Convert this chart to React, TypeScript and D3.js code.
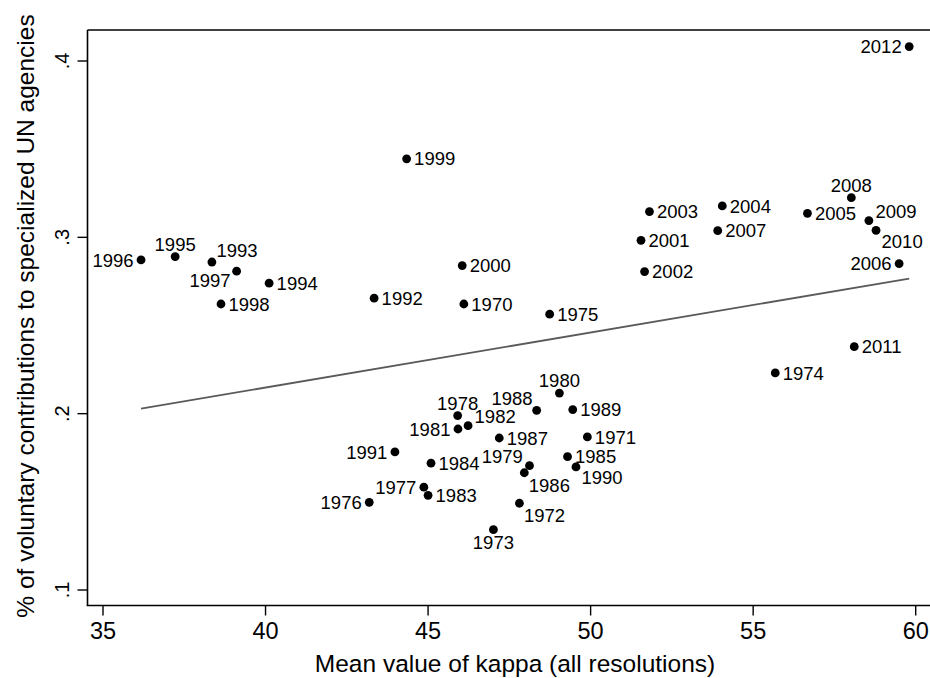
import React from "react";
import * as d3 from "d3";

// Annual observations, 1970–2012
const years = [
  1970, 1971, 1972, 1973, 1974, 1975, 1976, 1977, 1978, 1979,
  1980, 1981, 1982, 1983, 1984, 1985, 1986, 1987, 1988, 1989,
  1990, 1991, 1992, 1993, 1994, 1995, 1996, 1997, 1998, 1999,
  2000, 2001, 2002, 2003, 2004, 2005, 2006, 2007, 2008, 2009,
  2010, 2011, 2012,
];

// Mean value of kappa (all resolutions)
const kappa = [
  46.10, 49.90, 47.81, 47.01, 55.68, 48.74, 43.19, 44.87, 45.91, 48.12,
  49.04, 45.92, 46.23, 45.00, 45.09, 49.29, 47.96, 47.19, 48.34, 49.45,
  49.55, 43.98, 43.34, 38.35, 40.11, 37.22, 36.17, 39.11, 38.63, 44.34,
  46.05, 51.55, 51.66, 51.81, 54.05, 56.67, 59.49, 53.91, 58.02, 58.56,
  58.78, 58.11, 59.80,
];

// Share of voluntary contributions going to specialized UN agencies
const share = [
  0.2622, 0.1868, 0.1492, 0.1342, 0.2231, 0.2564, 0.1497, 0.1583, 0.1989, 0.1705,
  0.2117, 0.1913, 0.1932, 0.1537, 0.1719, 0.1756, 0.1665, 0.1862, 0.2019, 0.2023,
  0.1698, 0.1783, 0.2655, 0.2860, 0.2740, 0.2891, 0.2872, 0.2808, 0.2622, 0.3445,
  0.2840, 0.2983, 0.2806, 0.3146, 0.3178, 0.3136, 0.2851, 0.3038, 0.3225, 0.3095,
  0.3040, 0.2380, 0.4082,
];

// Marker label position, as a clock hour around the point
const labelClock = [
  3, 3, 5, 6, 3, 3, 9, 9, 12, 10,
  12, 9, 2, 3, 3, 3, 5, 3, 11, 3,
  4, 9, 3, 1, 3, 12, 9, 7, 3, 3,
  3, 3, 3, 3, 3, 3, 9, 3, 12, 2,
  4, 3, 9,
];

const xTicks = [35, 40, 45, 50, 55, 60];
const yTicks = [0.1, 0.2, 0.3, 0.4];
const yTickLabels = [".1", ".2", ".3", ".4"];

const W = 930;
const H = 678;
const left = 87.5;
const right = 930;
const top = 30;
const bottom = 605.5;

const FONT = "'Liberation Sans', Arial, Helvetica, sans-serif";
const LABEL_FS = 18.5;
const CAP = LABEL_FS * 0.716;

// text placement for a given clock position: [dx, dy(baseline), anchor]
function labelPlacement(clock: number): [number, number, string] {
  switch (clock) {
    case 12: return [0, -6, "middle"];
    case 6: return [0, 6 + CAP, "middle"];
    case 3: return [7.5, CAP / 2, "start"];
    case 9: return [-7.5, CAP / 2, "end"];
    case 1: return [4.5, -4.7, "start"];
    case 2: return [6.5, -2.3, "start"];
    case 4: return [5.5, 4 + CAP, "start"];
    case 5: return [4.5, 5.6 + CAP, "start"];
    case 7: return [-6, 2.7 + CAP, "end"];
    case 10: return [-6.7, -2.3, "end"];
    case 11: return [-4, -5.3, "end"];
    default: return [7.5, CAP / 2, "start"];
  }
}

export default function App() {
  const x = d3.scaleLinear().domain([35, 60]).range([103, 915.7]);
  const y = d3.scaleLinear().domain([0.1, 0.4]).range([590, 61]);

  // least-squares linear fit of share on kappa
  const mx = d3.mean(kappa) as number;
  const my = d3.mean(share) as number;
  let sxy = 0;
  let sxx = 0;
  kappa.forEach((k, i) => {
    sxy += (k - mx) * (share[i] - my);
    sxx += (k - mx) * (k - mx);
  });
  const slope = sxy / sxx;
  const intercept = my - slope * mx;
  const [kMin, kMax] = d3.extent(kappa) as [number, number];
  const fitLine = d3.line<number>()
    .x((k) => x(k))
    .y((k) => y(intercept + slope * k));

  return (
    <svg
      width={W}
      height={H}
      style={{ position: "absolute", left: 0, top: 0, background: "#fff" }}
      fontFamily={FONT}
    >
      <rect x={0} y={0} width={W} height={H} fill="#fff" />

      {/* fitted line */}
      <path
        d={fitLine([kMin, kMax]) as string}
        fill="none"
        stroke="#5a5a5a"
        strokeWidth={1.8}
      />

      {/* points and year labels */}
      {years.map((yr, i) => {
        const cx = x(kappa[i]);
        const cy = y(share[i]);
        const [dx, dy, anchor] = labelPlacement(labelClock[i]);
        return (
          <g key={yr}>
            <circle cx={cx} cy={cy} r={4.4} fill="#000" />
            <text
              x={cx + dx}
              y={cy + dy}
              textAnchor={anchor}
              fontSize={LABEL_FS}
              fill="#000"
            >
              {yr}
            </text>
          </g>
        );
      })}

      {/* frame */}
      <line x1={left} x2={right} y1={top} y2={top} stroke="#000" strokeWidth={1.6} />
      <line x1={left} x2={left} y1={top} y2={bottom} stroke="#000" strokeWidth={1.6} />
      <line x1={left - 0.8} x2={right} y1={bottom} y2={bottom} stroke="#000" strokeWidth={1.6} />

      {/* x axis */}
      {xTicks.map((t) => (
        <g key={t}>
          <line x1={x(t)} x2={x(t)} y1={bottom} y2={bottom + 10} stroke="#000" strokeWidth={1.4} />
          <text x={x(t)} y={639.3} textAnchor="middle" fontSize={23.5} fill="#000">
            {t}
          </text>
        </g>
      ))}
      <text x={515} y={672} textAnchor="middle" fontSize={24.5} fill="#000">
        Mean value of kappa (all resolutions)
      </text>

      {/* y axis */}
      {yTicks.map((t, i) => (
        <g key={t}>
          <line x1={left - 10} x2={left} y1={y(t)} y2={y(t)} stroke="#000" strokeWidth={1.4} />
          <text
            transform={`translate(69,${y(t)}) rotate(-90)`}
            textAnchor="middle"
            fontSize={20}
            fill="#000"
          >
            {yTickLabels[i]}
          </text>
        </g>
      ))}
      <text
        transform={`translate(33.5,316) rotate(-90)`}
        textAnchor="middle"
        fontSize={24.5}
        fill="#000"
      >
        % of voluntary contributions to specialized UN agencies
      </text>
    </svg>
  );
}
